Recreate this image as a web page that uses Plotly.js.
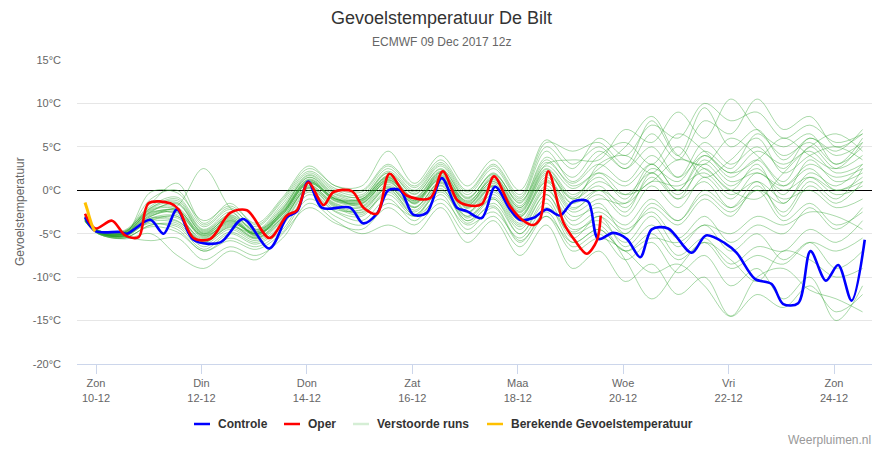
<!DOCTYPE html>
<html>
<head>
<meta charset="utf-8">
<script src="https://cdn.plot.ly/plotly-3.0.1.min.js"></script>
<style>
html,body{margin:0;padding:0;background:#fff;}
#chart{width:883px;height:450px;}
</style>
</head>
<body>
<div id="chart"></div>
<script>
// ---- DATA (hours relative to 10 Dec 2017 00:00) ----
const controleHours = [-5,-0.3,11,14.1,24.7,30.8,36.9,44.3,56.6,67,78.9,87,91.6,96.6,102.8,115.7,121.6,127.9,133,138.5,144.4,150.6,157.4,164.3,168.8,175.6,181.7,188.5,193,199,205.2,211.3,217.2,224,228.6,235.5,241.7,247.8,253,260.5,271.2,277.7,286.4,291.7,300,307.6,312.9,319.7,325.3,332.3,337.9,344,350];
const controleVals  = [-3.1,-4.7,-4.8,-5.0,-3.4,-5.0,-2.2,-5.7,-6.0,-3.3,-6.7,-3.1,-2.4,1.0,-2.0,-2.0,-3.8,-2.7,0.0,0.0,-2.8,-2.6,1.4,-2.0,-2.4,-3.2,0.4,-2.2,-3.4,-3.2,-2.2,-2.9,-1.3,-1.3,-5.6,-4.9,-5.6,-7.7,-4.5,-4.4,-7.2,-5.2,-6.1,-7.2,-10.2,-10.8,-13.1,-13.0,-7.0,-10.4,-8.6,-12.7,-5.7];

const operHours = [-5,-0.3,7.3,13.3,19.4,23.9,33.8,37.6,44.4,52,61.1,68.7,79,86.9,91.5,96.7,103.6,108.1,116.5,121.8,127.9,133.6,141.5,152.1,157.9,164.3,168.8,175.6,181.2,188.5,194.6,199.1,202.2,205.9,212.8,218.1,223.4,228,229.8];
const operVals  = [-2.7,-4.4,-3.5,-5.2,-5.4,-1.5,-1.5,-2.2,-5.5,-5.6,-2.6,-2.3,-5.5,-2.9,-2.3,0.9,-1.7,-0.2,-0.1,-2.0,-2.7,1.9,-0.6,-0.9,2.2,-1.1,-1.7,-1.6,1.6,-1.8,-3.5,-4.0,-3.3,2.2,-3.7,-5.8,-7.3,-5.8,-2.9];

const berekendHours = [-5,-4,-3,-2,-1,-0.3];
const berekendVals  = [-1.4,-2.2,-3.1,-3.9,-4.5,-4.7];

const ensHours = [-5,1,13,25,37,49,61,73,85,97,109,121,133,145,157,169,181,193,205,217,229,241,253,265,277,289,301,313,325,337,349];
const ens01 = [-3.2,-4.7,-5.0,-2.5,-1.5, -5.0,-3.0,-5.2,-2.5,1.2, -1.0,-1.2,1.5,-1.0,2.0, -1.5,1.0,-2.5,2.0,-1.0, 0.5,-2.0,1.5,-1.0,3.0, 0.5,2.5,-0.5,3.5,1.0, 2.0];
const ens02 = [-3.5,-4.9,-5.3,-3.5,-3.0, -5.8,-4.0,-5.5,-3.0,0.5, -1.5,-2.0,0.5,-2.0,1.0, -2.5,0.0,-3.5,0.5,-3.0, -2.0,-4.0,-1.0,-3.5,0.0, -2.0,1.0,-3.0,0.5,-1.5, 1.0];
const ens03 = [-3.0,-4.6,-4.8,-2.0,-1.0, -4.5,-2.5,-4.8,-2.0,1.5, -0.5,-1.0,2.0,-0.5,2.5, -1.0,2.0,-1.5,3.5,0.5, 2.5,5.0,8.5,4.0,3.0, 6.0,4.0,1.0,5.0,2.5, 4.0];
const ens04 = [-3.6,-5.0,-5.5,-4.0,-4.0, -6.5,-4.8,-6.0,-3.8,0.0, -2.0,-2.8,0.0,-2.5,0.5, -3.5,-1.0,-4.5,-0.5,-4.5, -3.5,-6.0,-3.0,-6.5,-4.0, -7.0,-5.0,-8.0,-6.0,-9.0, -7.0];
const ens05 = [-3.3,-4.8,-4.9,-1.0,0.0, -4.0,-2.0,-4.5,-1.5,2.0, 0.0,-0.5,2.5,0.0,3.0, -0.5,2.5,-1.0,4.5,1.0, 4.0,5.5,3.0,6.5,4.5, 2.0,3.5,6.0,4.0,2.5, 5.5];
const ens06 = [-3.4,-4.9,-5.2,-3.0,-2.5, -5.5,-3.5,-5.0,-2.8,0.8, -1.2,-1.5,1.0,-1.5,1.5, -2.0,0.5,-3.0,1.5,-2.0, -0.5,-3.0,0.5,-2.0,1.5, -1.0,2.0,0.0,1.5,-0.5, 0.5];
const ens07 = [-3.1,-4.7,-5.0,-3.8,-4.5, -7.0,-5.5,-6.5,-4.5,-0.5, -2.5,-3.5,-1.0,-3.5,-0.5, -4.5,-2.0,-6.0,-2.5,-6.5, -5.0,-8.0,-6.0,-9.5,-7.5, -11.0,-9.0,-12.5,-10.0,-15.0, -11.0];
const ens08 = [-3.2,-4.8,-5.1,-2.2,-2.0, -4.8,-3.2,-5.3,-2.2,1.5, -0.8,-1.8,1.2,-1.2,1.8, -1.8,1.5,-2.0,2.5,-0.5, 1.5,-1.0,3.0,0.0,4.0, 1.5,3.5,0.5,2.5,0.0, 1.5];
const ens09 = [-3.5,-4.7,-4.6,-1.5,0.8, -3.8,-1.5,-4.0,-1.0,2.5, 0.5,0.0,3.0,0.5,3.5, 0.0,3.0,-0.5,5.5,4.5, 5.5,3.0,8.0,4.0,9.5, 5.0,7.0,3.5,6.0,4.5, 7.0];
const ens10 = [-3.3,-4.9,-5.4,-5.8,-5.5, -8.0,-6.5,-7.5,-5.5,-1.5, -3.5,-5.0,-4.0,-5.0,-2.0, -6.0,-3.5,-7.5,-4.0,-9.0, -7.0,-10.5,-8.5,-12.0,-10.0, -14.5,-12.0,-13.5,-11.0,-14.0, -12.0];
const ens11 = [-3.0,-4.8,-5.0,-2.8,-1.8, 2.5,-2.0,-4.5,-2.5,1.0, -1.0,-1.0,1.5,-1.5,2.0, -2.5,0.5,-3.0,1.0,-1.5, 0.0,-2.5,2.0,-0.5,2.5, 0.0,3.0,-1.5,2.0,0.5, 3.0];
const ens12 = [-3.4,-4.8,-5.2,-3.2,-3.5, -6.0,-4.2,-5.0,-3.2,0.3, -1.8,-2.5,0.3,-2.0,0.8, -3.0,-0.5,-4.0,0.0,-3.5, -1.5,-5.0,-2.0,-4.0,-1.0, -3.0,0.5,-2.5,1.0,-1.0, 2.5];
const ens13 = [-3.2,-4.7,-4.9,-2.5,-2.8, -5.2,-3.8,-4.8,-2.5,1.0, -1.0,-1.2,1.2,-1.0,1.2, -1.2,1.2,-2.2,2.2,-1.5, 3.0,4.0,2.0,5.0,1.5, 3.5,6.0,2.0,4.0,5.0, 3.5];
const ens14 = [-3.6,-5.0,-5.6,-5.0,-7.5, -9.0,-7.0,-8.0,-5.0,-2.0, -3.8,-4.5,-2.0,-4.0,-1.5, -5.0,-3.0,-6.5,-3.0,-7.0, -5.5,-7.0,-9.5,-8.5,-11.0, -14.5,-10.0,-9.0,-11.5,-12.5, -14.0];
const ens15 = [-3.3,-4.8,-5.1,-3.0,-2.2, -5.4,-3.6,-5.2,-2.8,0.9, -1.3,-1.6,1.1,-1.6,1.3, -2.1,0.4,-3.1,0.9,-2.5, -1.0,-1.5,2.5,1.0,4.5, 2.5,6.5,4.0,5.5,3.0, 5.0];
const ens16 = [-3.1,-4.6,-4.7,-2.0,-1.2, -4.6,-2.8,-4.6,-1.8,1.8, -0.2,-0.8,2.2,-0.2,2.8, -0.8,1.8,-1.2,3.0,3.5, 3.5,7.0,5.5,9.0,6.0, 10.5,7.0,5.0,6.5,3.0, 6.0];
const ens17 = [-3.5,-4.9,-5.3,-3.6,-3.8, -6.2,-4.5,-5.8,-3.5,0.2, -2.2,-2.2,0.2,-2.8,0.2, -3.8,-1.5,-5.0,-1.0,-5.5, -3.0,-6.5,-4.0,-7.5,-5.5, -8.5,-6.5,-7.0,-4.5,-6.0, -3.5];
const ens18 = [-3.2,-4.8,-5.0,-2.6,-2.4, -5.2,-3.4,-5.1,-2.7,0.8, -1.1,-1.4,0.9,-1.4,1.4, -1.9,0.6,-2.8,1.2,-2.2, 0.0,-1.5,1.0,0.5,2.0, -0.5,1.0,-1.0,0.0,-2.0, -1.0];
const ens19 = [-3.4,-4.7,-4.8,-1.8,-0.8, -4.2,-2.2,-4.2,-1.2,2.2, 0.2,-0.2,2.8,0.3,3.2, -0.2,2.8,-0.8,5.0,2.5, 6.0,4.0,7.5,6.0,10.0, 8.0,9.0,6.0,7.5,5.5, 6.5];
const ens20 = [-3.3,-4.9,-5.2,-3.3,-3.2, -5.6,-3.9,-5.4,-3.1,0.6, -1.6,-1.9,0.7,-1.9,0.9, -2.6,-0.2,-3.8,0.2,-4.0, -2.5,-4.5,-2.5,-5.5,-3.0, -6.0,-4.0,-5.0,-2.0,-4.5, -2.0];
const ens21 = [-3.0,-4.6,-4.8,-2.4,-1.6, -4.9,-3.1,-4.9,-2.3,1.3, -0.7,-1.1,1.7,-0.8,2.2, -1.3,1.3,-2.0,2.8,0.2, 2.0,-0.5,1.0,3.5,2.5, 0.0,-1.0,2.0,5.0,6.5, 4.5];
const ens22 = [-3.6,-5.0,-5.4,-4.2,-4.8, -7.0,-5.8,-6.8,-4.8,-1.0, -3.0,-4.0,-1.5,-3.0,-1.0, -4.0,-2.5,-5.5,-2.0,-5.0, -4.0,-8.0,-12.5,-9.0,-6.0, -8.0,-10.5,-7.0,-8.0,-10.0, -9.0];
const ens23 = [-3.2,-4.8,-5.0,-2.9,-2.6, -5.3,-3.7,-5.0,-2.6,1.1, -1.2,-1.3,1.3,-1.3,1.6, -1.7,0.8,-2.6,1.8,-1.0, 1.0,-0.5,2.0,-1.0,1.0, -2.0,0.0,-3.5,-1.5,-4.0, -2.5];
const ens24 = [-3.4,-4.8,-5.1,-0.2,-0.3, -3.5,-1.8,-3.8,-0.8,2.8, 0.5,0.5,4.5,0.8,4.0, 0.5,3.5,0.0,5.8,3.0, 5.0,2.5,6.5,3.5,8.0, 6.5,10.5,7.0,8.5,5.0, 6.5];
const ens25 = [-3.3,-4.8,-5.2,-3.4,-3.6, -5.9,-4.3,-5.6,-3.4,0.4, -1.7,-2.3,0.4,-2.3,0.6, -3.2,-0.8,-4.2,-0.5,-4.8, -3.0,-5.0,-1.5,-3.5,-0.5, -2.5,0.0,-1.5,1.5,0.0, 1.0];
const ens26 = [-3.1,-4.7,-4.9,-2.3,-2.2, -5.1,-3.3,-5.0,-2.4,1.2, -0.9,-1.0,1.6,-0.9,2.1, -1.4,1.6,-1.8,3.2,0.8, 3.0,1.0,4.0,1.5,5.5, 3.0,5.0,2.5,6.0,4.0, 5.5];
const ens27 = [-3.5,-4.9,-5.3,-3.2,-3.0, -6.0,-4.1,-5.5,-3.3,0.3, -1.9,-2.6,-0.5,-3.0,0.0, -3.0,-1.0,-5.0,-1.5,-6.0, -4.5,-7.0,-5.5,-6.0,-4.0, -5.0,-3.0,-4.0,-2.5,-3.0, -4.5];
const ens28 = [-3.2,-4.8,-5.0,-2.7,-2.3, -5.0,-3.5,-5.0,-2.7,0.9, -1.0,-1.5,1.4,-1.2,1.7, -1.6,1.0,-2.4,2.4,-0.8, 2.0,0.5,3.0,0.0,3.5, 1.0,2.0,0.5,3.0,1.5, 2.5];
const ens29 = [-3.0,-4.6,-4.7,-2.1,-1.4, -4.7,-2.9,-4.7,-2.1,1.7, -0.4,-0.7,2.0,-0.4,2.4, -0.9,1.9,-1.4,3.8,1.5, 4.5,2.5,5.0,1.5,4.0, 2.0,4.5,3.0,4.5,2.0, 3.0];
const ens30 = [-3.5,-5.0,-5.5,-4.0,-4.2, -6.8,-5.0,-6.2,-4.0,-0.2, -2.4,-3.0,-0.2,-2.8,-0.2, -3.5,-1.8,-5.8,-3.0,-6.0, -4.5,-7.0,-5.0,-8.0,-6.0, -9.0,-7.5,-8.5,-6.0,-7.0, -5.5];
const ensembleMembers = [ens01,ens02,ens03,ens04,ens05,ens06,ens07,ens08,ens09,ens10,ens11,ens12,ens13,ens14,ens15,ens16,ens17,ens18,ens19,ens20,ens21,ens22,ens23,ens24,ens25,ens26,ens27,ens28,ens29,ens30];

const tickDays   = [0,2,4,6,8,10,12,14];
const tickLabels = ['Zon<br>10-12','Din<br>12-12','Don<br>14-12','Zat<br>16-12','Maa<br>18-12','Woe<br>20-12','Vri<br>22-12','Zon<br>24-12'];
const yTicks = [-20,-15,-10,-5,0,5,10,15];

// ---- helpers ----
const BASE = Date.UTC(2017,11,10,0,0,0);
const toDate = h => new Date(BASE + h*3600000).toISOString().replace('Z','');

const FONT = '"Liberation Sans", Arial, Helvetica, sans-serif';
const L = 77, R = 11, T = 60, B = 86, W = 883, H = 450;
const PW = W - L - R, PH = H - T - B;
const px = x => (x - L) / PW;
const py = y => (H - B - y) / PH;

const traces = [];
ensembleMembers.forEach(m => {
  traces.push({
    x: ensHours.map(toDate), y: m, type: 'scatter', mode: 'lines',
    line: {color: 'rgba(40,160,40,0.4)', width: 1, shape: 'spline', smoothing: 1},
    hoverinfo: 'skip', showlegend: false, name: 'Verstoorde runs'
  });
});
traces.push({x: controleHours.map(toDate), y: controleVals, type:'scatter', mode:'lines', name:'Controle',
  line:{color:'#0000ff', width:2.6, shape:'spline', smoothing:0.9}, showlegend:false});
traces.push({x: operHours.map(toDate), y: operVals, type:'scatter', mode:'lines', name:'Oper',
  line:{color:'#ff0000', width:2.6, shape:'spline', smoothing:0.9}, showlegend:false});
traces.push({x: berekendHours.map(toDate), y: berekendVals, type:'scatter', mode:'lines', name:'Berekende Gevoelstemperatuur',
  line:{color:'#ffc000', width:3, shape:'spline', smoothing:1}, showlegend:false});

// manual legend
const legendItems = [
  {sx:194, tx:216, text:'Controle', color:'#0000ff'},
  {sx:284, tx:306, text:'Oper', color:'#ff0000'},
  {sx:353, tx:375, text:'Verstoorde runs', color:'#d5eed5'},
  {sx:487, tx:509, text:'Berekende Gevoelstemperatuur', color:'#ffc000'}
];
const shapes = [];
const annotations = [];
legendItems.forEach(it => {
  shapes.push({type:'line', xref:'paper', yref:'paper', x0:px(it.sx), x1:px(it.sx+16), y0:py(424), y1:py(424),
    line:{color:it.color, width:2.5}});
  annotations.push({xref:'paper', yref:'paper', x:px(it.tx), y:py(424), xanchor:'left', yanchor:'middle',
    text:'<b>'+it.text+'</b>', showarrow:false, font:{family:FONT, size:12, color:'#333333'}});
});
annotations.push({xref:'paper', yref:'paper', x:px(W/2), y:py(18), xanchor:'center', yanchor:'middle',
  text:'Gevoelstemperatuur De Bilt', showarrow:false, font:{family:FONT, size:18, color:'#333333'}});
annotations.push({xref:'paper', yref:'paper', x:px(W/2), y:py(42), xanchor:'center', yanchor:'middle',
  text:'ECMWF 09 Dec 2017 12z', showarrow:false, font:{family:FONT, size:12, color:'#666666'}});
annotations.push({xref:'paper', yref:'paper', x:px(20), y:0.5, xanchor:'center', yanchor:'middle', textangle:-90,
  text:'Gevoelstemperatuur', showarrow:false, font:{family:FONT, size:12, color:'#666666'}});
annotations.push({xref:'paper', yref:'paper', x:px(873), y:py(440), xanchor:'right', yanchor:'middle',
  text:'Weerpluimen.nl', showarrow:false, font:{family:FONT, size:12, color:'#999999'}});

const layout = {
  width: W, height: H,
  margin: {l:L, r:R, t:T, b:B, pad:0},
  paper_bgcolor:'#ffffff', plot_bgcolor:'#ffffff',
  font: {family: FONT, size: 11, color:'#666666'},
  showlegend: false,
  xaxis: {
    type:'date',
    range:[toDate(-8.65), toDate(353.3)],
    tickvals: tickDays.map(d => toDate(d*24)),
    ticktext: tickLabels,
    showgrid:false, zeroline:false,
    showline:true, linecolor:'#ccd6eb', linewidth:1,
    ticks:'outside', ticklen:9, tickcolor:'#ccd6eb', tickwidth:1,
    tickfont:{family:FONT, size:11, color:'#666666'},
    fixedrange:true
  },
  yaxis: {
    range:[-20,15],
    tickvals: yTicks,
    ticktext: yTicks.map(v => v + '°C'),
    showgrid:true, gridcolor:'#e6e6e6', gridwidth:1,
    zeroline:true, zerolinecolor:'#000000', zerolinewidth:1,
    showline:false, ticks:'', ticklabelstandoff: 15,
    tickfont:{family:FONT, size:11, color:'#666666'},
    fixedrange:true
  },
  shapes: shapes,
  annotations: annotations
};

Plotly.newPlot('chart', traces, layout, {displayModeBar:false, staticPlot:true});
</script>
</body>
</html>
